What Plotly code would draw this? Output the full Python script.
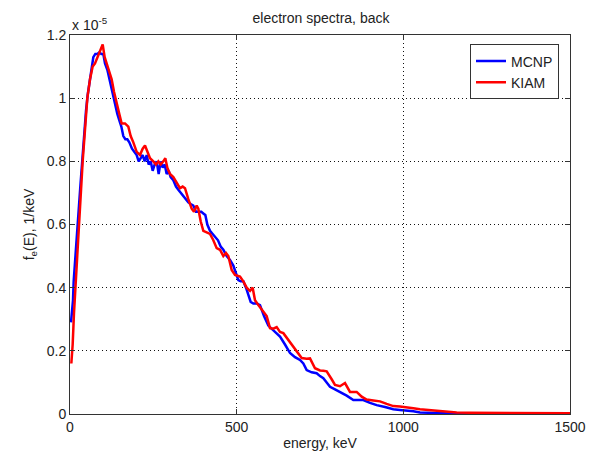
import numpy as np
import plotly.graph_objects as go

# ---- data (energy in keV, spectrum in units of 1e-5 1/keV) ----
mcnp_e = [3, 6, 9, 11, 14, 18, 22, 27, 31, 36, 42, 48, 53, 58, 64, 70, 76, 82, 88, 94,
          100, 105, 112, 118, 124, 130, 136, 142, 148, 154, 160, 166, 172, 178, 186, 194,
          200, 206, 212, 218, 224, 230, 236, 242, 248, 254, 260, 266, 272, 278, 284, 290,
          296, 302, 310, 318, 325, 333, 340, 348, 355, 362, 370, 378, 386, 394, 400, 406,
          412, 420, 428, 436, 444, 452, 460, 470, 480, 490, 497, 505, 512, 520, 528, 535,
          542, 550, 560, 570, 582, 595, 610, 630, 645, 660, 675, 690, 700, 710, 725, 740,
          750, 760, 770, 780, 795, 810, 830, 850, 865, 880, 900, 920, 945, 970, 990, 1010,
          1030, 1050, 1080, 1120, 1160, 1200, 1250]
mcnp_f = [0.29, 0.33, 0.36, 0.42, 0.46, 0.52, 0.58, 0.66, 0.72, 0.80, 0.88, 0.96, 1.01, 1.05,
          1.10, 1.13, 1.14, 1.14, 1.145, 1.14, 1.14, 1.11, 1.09, 1.06, 1.03, 1.00, 0.97, 0.95,
          0.93, 0.91, 0.88, 0.87, 0.87, 0.86, 0.84, 0.83, 0.82, 0.80, 0.81, 0.82, 0.80, 0.82,
          0.79, 0.80, 0.77, 0.79, 0.80, 0.76, 0.80, 0.78, 0.79, 0.76, 0.77, 0.75, 0.74, 0.72,
          0.71, 0.70, 0.69, 0.68, 0.67, 0.665, 0.66, 0.64, 0.64, 0.64, 0.635, 0.63, 0.60, 0.58,
          0.57, 0.56, 0.55, 0.53, 0.52, 0.50, 0.488, 0.47, 0.45, 0.424, 0.42, 0.42, 0.40, 0.375,
          0.355, 0.35, 0.35, 0.345, 0.31, 0.28, 0.265, 0.245, 0.22, 0.193, 0.18, 0.171, 0.16,
          0.139, 0.132, 0.129, 0.12, 0.113, 0.10, 0.086, 0.078, 0.07, 0.058, 0.044, 0.045,
          0.044, 0.035, 0.028, 0.022, 0.015, 0.013, 0.012, 0.009, 0.005, 0.003, 0.002, 0.001,
          0.001, 0.001]

kiam_e = [4, 8, 12, 16, 22, 28, 33, 38, 45, 52, 60, 68, 75, 82, 90, 98, 104, 110, 118, 125,
          132, 140, 148, 155, 165, 175, 182, 190, 200, 210, 218, 225, 232, 240, 250, 258, 265,
          272, 280, 286, 292, 300, 310, 320, 330, 338, 345, 355, 365, 372, 380, 385, 392, 400,
          410, 420, 430, 440, 450, 460, 468, 475, 485, 495, 510, 520, 530, 540, 548, 555, 565,
          580, 590, 600, 610, 620, 630, 640, 655, 670, 685, 695, 710, 720, 735, 750, 760, 770,
          785, 795, 810, 825, 840, 860, 875, 890, 910, 930, 950, 970, 990, 1010, 1030, 1050,
          1080, 1100, 1130, 1160, 1200, 1300, 1400, 1500]
kiam_f = [0.16, 0.22, 0.32, 0.40, 0.50, 0.60, 0.70, 0.80, 0.90, 1.00, 1.06, 1.10, 1.11, 1.13,
          1.15, 1.17, 1.13, 1.11, 1.08, 1.06, 1.02, 0.98, 0.95, 0.92, 0.92, 0.91, 0.88, 0.86,
          0.83, 0.82, 0.84, 0.85, 0.83, 0.81, 0.80, 0.79, 0.80, 0.79, 0.80, 0.81, 0.78, 0.76,
          0.75, 0.73, 0.715, 0.72, 0.715, 0.68, 0.65, 0.64, 0.66, 0.65, 0.61, 0.58, 0.575, 0.57,
          0.55, 0.525, 0.52, 0.50, 0.51, 0.50, 0.456, 0.44, 0.435, 0.42, 0.40, 0.39, 0.40, 0.36,
          0.345, 0.325, 0.31, 0.272, 0.27, 0.275, 0.26, 0.256, 0.235, 0.213, 0.19, 0.177, 0.175,
          0.176, 0.145, 0.138, 0.137, 0.135, 0.11, 0.092, 0.088, 0.098, 0.07, 0.07, 0.055,
          0.046, 0.043, 0.04, 0.032, 0.025, 0.024, 0.022, 0.018, 0.015, 0.012, 0.01, 0.008,
          0.005, 0.004, 0.003, 0.002, 0.002]

x_ticks = [0, 500, 1000, 1500]
y_ticks = [0, 0.2, 0.4, 0.6, 0.8, 1.0, 1.2]
y_tick_text = ["0", "0.2", "0.4", "0.6", "0.8", "1", "1.2"]
scale = 1e-5

font_family = "Liberation Sans, Arial, sans-serif"
txt = "#222222"
fs = 14

fig = go.Figure()
fig.add_trace(go.Scatter(x=mcnp_e, y=np.array(mcnp_f) * scale, mode="lines", name="MCNP",
                         line=dict(color="#0000ff", width=2.5)))
fig.add_trace(go.Scatter(x=kiam_e, y=np.array(kiam_f) * scale, mode="lines", name="KIAM",
                         line=dict(color="#ff0000", width=2.5)))

axis_common = dict(showline=True, linecolor="#333333", linewidth=1, mirror="ticks",
                   ticks="inside", ticklen=5, tickcolor="#333333",
                   showgrid=True, gridcolor="#111111", griddash="1px,3px", gridwidth=1,
                   zeroline=False, automargin=False,
                   tickfont=dict(size=fs, color=txt, family=font_family))

fig.update_xaxes(range=[0, 1500], tickvals=x_ticks, ticktext=[str(v) for v in x_ticks],
                 title=dict(text="energy, keV", font=dict(size=fs, color=txt, family=font_family),
                            standoff=4),
                 **axis_common)
fig.update_yaxes(range=[0, 1.2 * scale], tickvals=[v * scale for v in y_ticks], ticktext=y_tick_text,
                 title=dict(text="f<sub>e</sub>(E), 1/keV",
                            font=dict(size=fs, color=txt, family=font_family), standoff=8),
                 **axis_common)

fig.update_layout(
    width=589, height=456,
    margin=dict(l=70, r=19, t=35, b=42, autoexpand=False),
    paper_bgcolor="white", plot_bgcolor="white",
    font=dict(family=font_family, color=txt),
    title=dict(text="electron spectra, back", x=0.545, xanchor="center", y=0.96, yanchor="middle",
               automargin=False,
               font=dict(size=fs, color=txt, family=font_family)),
    showlegend=True,
    legend=dict(x=0.978, y=0.975, xanchor="right", yanchor="top",
                bgcolor="white", bordercolor="#333333", borderwidth=1,
                font=dict(size=fs, color=txt, family=font_family),
                tracegroupgap=0, itemwidth=30),
    annotations=[dict(text="x 10<sup>-5</sup>", xref="paper", yref="paper", x=0.0, y=1.0,
                      xanchor="left", yanchor="bottom", showarrow=False, yshift=0,
                      font=dict(size=fs, color=txt, family=font_family))],
)

fig.write_html("out.html", config={"displayModeBar": False},
               post_script="document.body.style.margin='0';document.body.style.overflow='hidden';")
